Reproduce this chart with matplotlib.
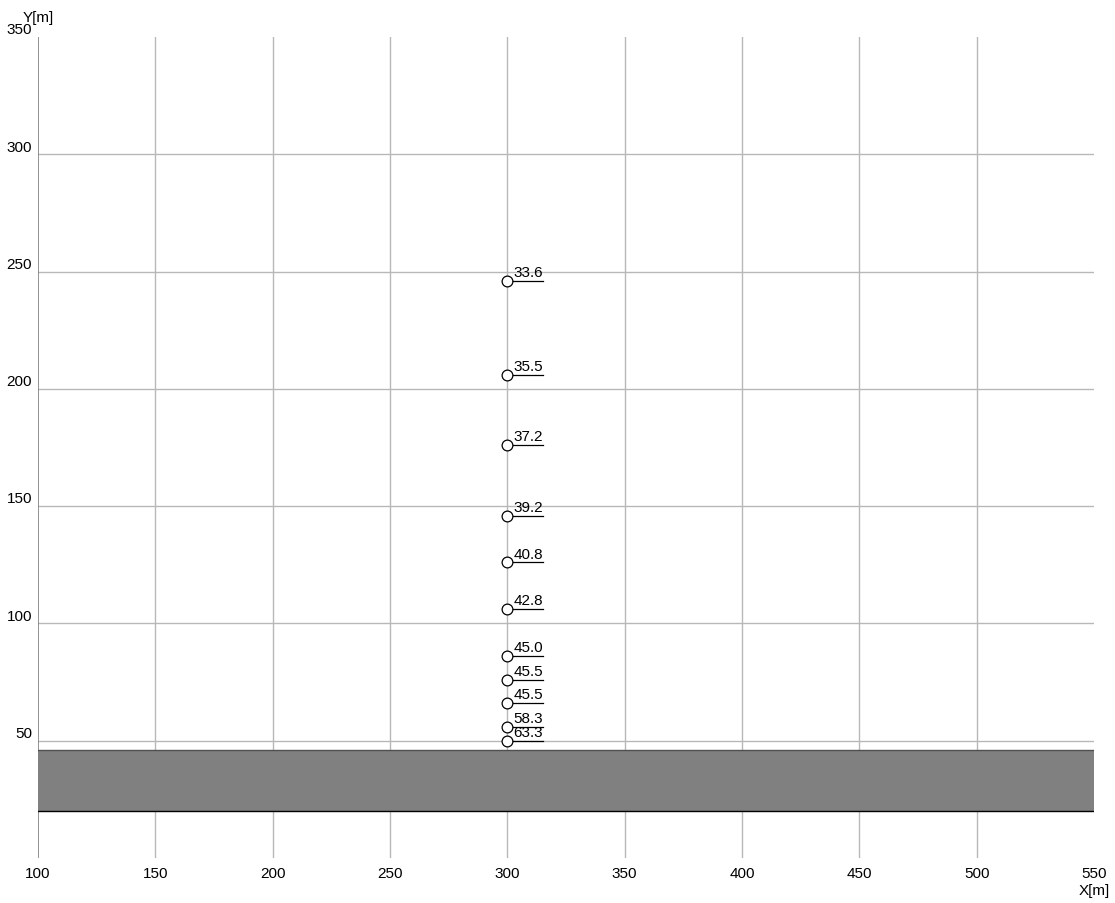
import matplotlib
matplotlib.use('Agg')
from matplotlib import pyplot as plt
import matplotlib.patches as mpatches

plt.rcParams['font.family'] = ['Liberation Sans', 'DejaVu Sans']

# measurement points along x = 300
pt_x = [300] * 11
pt_y = [246, 206, 176, 146, 126, 106, 86, 76, 66, 56, 50]
pt_lbl = ['33.6', '35.5', '37.2', '39.2', '40.8', '42.8', '45.0', '45.5', '45.5', '58.3', '63.3']

xticks = [100, 150, 200, 250, 300, 350, 400, 450, 500, 550]
yticks = [50, 100, 150, 200, 250, 300, 350]

# gray band (building / road)
band_x = (100, 550)
band_y = (20, 46)

fig = plt.figure(figsize=(11.15, 9.04), dpi=100)
ax = fig.add_axes([38/1115, 1 - 859/904, (1094-38)/1115, (859-38)/904])
ax.set_xlim(100, 550)
ax.set_ylim(0, 350)
ax.axis('off')

gc = '#b8b8b8'
fs = 11
for x in xticks:
    if x == 100:
        ax.plot([x, x], [0, 350], color='#808080', lw=1.2, zorder=3)
    elif x < 550:
        ax.plot([x, x], [0, 350], color=gc, lw=1, zorder=1)
    ax.text(x, -3.5, str(x), ha='center', va='top', fontsize=fs)
for y in yticks:
    if y < 350:
        ax.plot([100, 550], [y, y], color=gc, lw=1, zorder=1)
    ax.text(97.5, y + 0.3, str(y), ha='right', va='bottom', fontsize=fs)

ax.text(100, 355.5, 'Y[m]', ha='center', va='bottom', fontsize=fs)
ax.text(550, -10.5, 'X[m]', ha='center', va='top', fontsize=fs)

ax.add_patch(mpatches.Rectangle((band_x[0], band_y[0]), band_x[1] - band_x[0], band_y[1] - band_y[0],
                                facecolor='#808080', edgecolor='none', zorder=2))
ax.plot(band_x, [band_y[1]] * 2, color='#505050', lw=1, zorder=3)
ax.plot(band_x, [band_y[0]] * 2, color='black', lw=1, zorder=3)

for x, y, s in zip(pt_x, pt_y, pt_lbl):
    ax.plot([x, x + 15.3], [y, y], color='black', lw=0.9, zorder=3)
    ax.text(x + 2.5, y + 0.8, s, ha='left', va='bottom', fontsize=fs, zorder=5)
ax.scatter(pt_x, pt_y, s=60, facecolor='white', edgecolor='black', linewidth=0.9, zorder=4)

plt.savefig('out.png')
